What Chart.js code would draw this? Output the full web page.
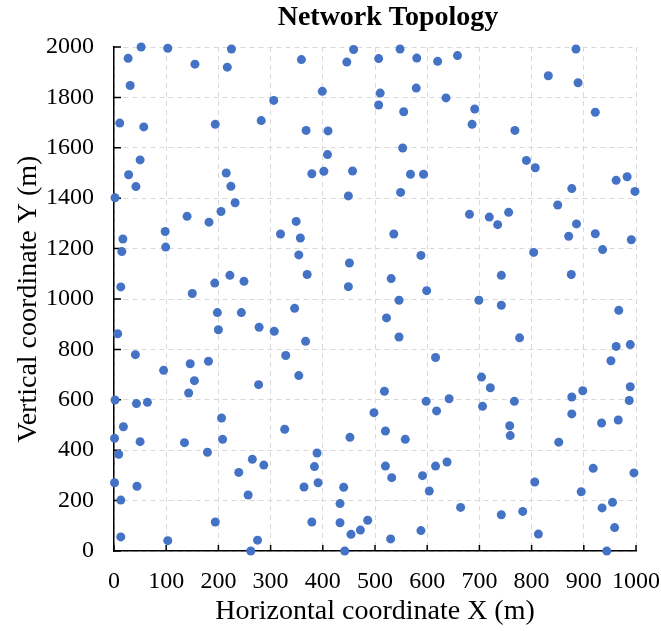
<!DOCTYPE html>
<html>
<head>
<meta charset="utf-8">
<script src="https://cdn.jsdelivr.net/npm/chart.js@4"></script>
<style>
  body { margin: 0; background: #ffffff; }
  canvas { display: block; }
</style>
</head>
<body>
<canvas id="topology-chart" width="661" height="631"></canvas>
<script>
// ===== DATA (node positions, metres) =====
const nodeX = [
    52, 103, 225, 27, 155, 217, 31, 306, 11, 57, 194, 282, 50, 28, 215, 42, 224, 2, 232, 205, 140,
    359, 459, 446, 507, 548, 580, 620, 658, 399, 510, 579, 636, 507, 555, 368, 410, 409, 553, 379, 402, 457, 568, 593, 449, 549,
    885, 832, 889, 691, 686, 768, 922, 790, 807, 962, 983, 998, 877, 850, 681, 719, 756,
    182, 98, 17, 15, 99, 319, 13, 150, 193, 222, 249, 198, 244, 200, 278, 307, 7, 41, 95, 146, 181, 154, 277, 143,
    349, 357, 536, 354, 451, 588, 370, 449, 531, 599, 546, 346, 522, 367, 546, 329, 616, 354, 518,
    735, 886, 871, 922, 991, 936, 804, 742, 876, 699, 742, 967, 777, 962, 989, 952, 704, 721, 898, 989,
    2, 43, 64, 206, 18, 1, 50, 135, 208, 9, 179, 265, 287, 239, 1, 44, 13, 257, 194, 13, 103, 275, 262,
    598, 642, 618, 498, 327, 452, 520, 558, 389, 384, 520, 616, 638, 532, 591, 364, 391, 440, 604, 433, 664, 379, 433, 486, 472, 454, 530, 588, 442,
    706, 767, 877, 987, 877, 758, 759, 934, 966, 852, 918, 996, 806, 895, 935, 955, 742, 783, 959, 813, 944
];
const nodeY = [
    2000, 1995, 1992, 1955, 1932, 1920, 1847, 1788, 1698, 1683, 1693, 1708, 1552, 1493, 1500, 1446, 1447, 1402, 1382, 1347, 1328,
    1950, 1990, 1940, 1954, 1992, 1956, 1943, 1966, 1824, 1817, 1837, 1798, 1770, 1743, 1669, 1667, 1573, 1599, 1497, 1507, 1508, 1495, 1495, 1409, 1423,
    1992, 1886, 1858, 1754, 1693, 1669, 1741, 1550, 1521, 1471, 1485, 1427, 1438, 1373, 1336, 1325, 1344,
    1305, 1268, 1238, 1188, 1206, 1258, 1048, 1022, 1063, 1094, 1070, 946, 946, 878, 888, 872, 862, 779, 717, 743, 753, 676, 660, 627,
    1308, 1242, 1258, 1175, 1143, 1173, 1097, 1049, 1081, 1033, 995, 963, 925, 832, 849, 776, 768, 696, 634,
    1295, 1298, 1249, 1259, 1235, 1196, 1185, 1094, 1097, 995, 975, 955, 846, 812, 819, 755, 690, 648, 636, 652,
    599, 585, 590, 528, 493, 447, 434, 430, 443, 384, 392, 364, 341, 312, 271, 257, 202, 222, 115, 56, 41, 43, 0,
    594, 604, 556, 549, 483, 451, 476, 443, 389, 335, 337, 337, 353, 291, 299, 254, 271, 253, 238, 188, 173, 115, 112, 122, 83, 66, 48, 81, 0,
    574, 594, 611, 597, 544, 497, 458, 508, 520, 432, 328, 310, 274, 235, 171, 193, 144, 157, 93, 67, 0
];
const xTickValues = [0, 100, 200, 300, 400, 500, 600, 700, 800, 900, 1000];
const yTickValues = [0, 200, 400, 600, 800, 1000, 1200, 1400, 1600, 1800, 2000];
const chartTitle = 'Network Topology';

const FONT = "'Liberation Serif', 'Times New Roman', serif";

// ===== PLUGINS =====

// small tick marks pointing into the plot area
const innerTicks = {
    id: 'innerTicks',
    beforeDatasetsDraw(chart) {
        const { ctx, chartArea, scales } = chart;
        ctx.save();
        ctx.strokeStyle = '#000000';
        ctx.lineWidth = 1.5;
        ctx.beginPath();
        xTickValues.forEach(v => {
            const px = scales.x.getPixelForValue(v);
            ctx.moveTo(px, chartArea.bottom);
            ctx.lineTo(px, chartArea.bottom - 6);
        });
        yTickValues.forEach(v => {
            const py = scales.y.getPixelForValue(v);
            ctx.moveTo(chartArea.left, py);
            ctx.lineTo(chartArea.left + 7, py);
        });
        ctx.stroke();
        ctx.restore();
    }
};

// title sits a little right of the plot centre in the original
const offsetTitle = {
    id: 'offsetTitle',
    afterDraw(chart) {
        const { ctx, chartArea } = chart;
        ctx.save();
        ctx.fillStyle = '#000000';
        ctx.font = 'bold 28px ' + FONT;
        ctx.textAlign = 'center';
        ctx.textBaseline = 'alphabetic';
        ctx.fillText(chartTitle, (chartArea.left + chartArea.right) / 2 + 13, 25);
        ctx.restore();
    }
};

// ===== CHART =====
const points = nodeX.map((x, i) => ({ x: x, y: nodeY[i] }));

new Chart(document.getElementById('topology-chart').getContext('2d'), {
    type: 'scatter',
    data: {
        datasets: [{
            label: 'Nodes',
            data: points,
            backgroundColor: '#4472C4',
            borderColor: '#4472C4',
            borderWidth: 0,
            pointRadius: 4.5,
            clip: false
        }]
    },
    options: {
        responsive: false,
        animation: false,
        layout: { padding: { left: 0, right: 25, top: 47, bottom: 0 } },
        scales: {
            x: {
                type: 'linear',
                min: 0,
                max: 1000,
                afterBuildTicks: (scale) => { scale.ticks = xTickValues.map(v => ({ value: v })); },
                afterFit: (scale) => {
                    scale.height = 80;
                    // let the last label hang into the right margin
                    scale.paddingLeft = 0;
                    scale.paddingRight = 0;
                },
                grid: { color: '#d9d9d9', lineWidth: 1, drawTicks: false },
                border: { display: true, color: '#000000', width: 1.5, dash: [5, 4] },
                ticks: {
                    color: '#000000',
                    padding: 16,
                    autoSkip: false,
                    maxRotation: 0,
                    callback: (value) => String(value),
                    font: { family: FONT, size: 24 }
                },
                title: {
                    display: true,
                    text: 'Horizontal coordinate X (m)',
                    color: '#000000',
                    padding: { top: 0, bottom: 3 },
                    font: { family: FONT, size: 28 }
                }
            },
            y: {
                type: 'linear',
                min: 0,
                max: 2000,
                afterBuildTicks: (scale) => { scale.ticks = yTickValues.map(v => ({ value: v })); },
                afterFit: (scale) => { scale.width = 114; },
                grid: { color: '#d9d9d9', lineWidth: 1, drawTicks: false },
                border: { display: true, color: '#000000', width: 1.5, dash: [5, 4] },
                ticks: {
                    color: '#000000',
                    padding: 20,
                    autoSkip: false,
                    callback: (value) => String(value),
                    font: { family: FONT, size: 24 }
                },
                title: {
                    display: true,
                    text: 'Vertical coordinate Y (m)',
                    color: '#000000',
                    padding: { top: 12, bottom: 0 },
                    font: { family: FONT, size: 28 }
                }
            }
        },
        plugins: {
            legend: { display: false },
            tooltip: { enabled: false },
            title: { display: false }
        }
    },
    plugins: [innerTicks, offsetTitle]
});
</script>
</body>
</html>
